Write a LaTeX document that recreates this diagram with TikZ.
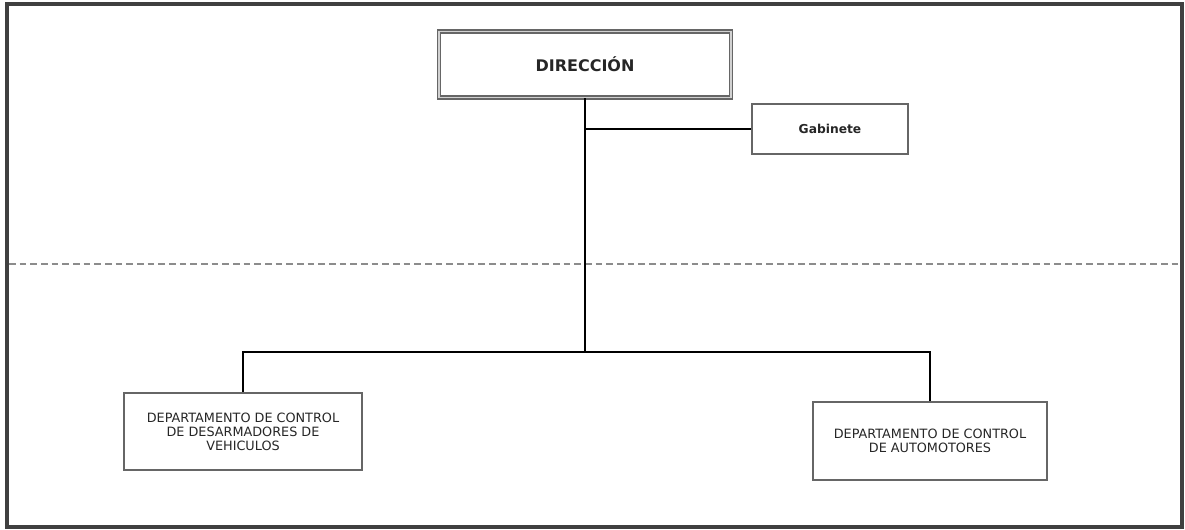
\documentclass[tikz,border=0pt]{standalone}
\usepackage{fontspec}
\setmainfont{DejaVu Sans}
\begin{document}
\begin{tikzpicture}[x=0.75pt,y=-0.75pt,
  mainbox/.style={rectangle,draw=black!60,double=black!18,double distance=1.2pt,line width=1pt,fill=white,
    font=\fontsize{12}{14}\selectfont\bfseries,text=black!85},
  unitbox/.style={rectangle,draw=black!60,line width=1.3pt,fill=white,align=center,
    font=\fontsize{9.6}{10.5}\selectfont,text=black!85},
  link/.style={draw=black,line width=1.2pt}]
\useasboundingbox (0,0) rectangle (1185,530);
\draw[black!75,line width=2.4pt] (7,4) rectangle (1182,527);
\draw[black!45,dashed,line width=0.9pt,dash pattern=on 5pt off 3pt] (9,264) -- (1180,264);
\node[mainbox,minimum width=292*0.75pt,minimum height=66*0.75pt] (dir) at (585,64.5) {DIRECCIÓN};
\node[unitbox,font=\fontsize{9.2}{10.5}\selectfont\bfseries,minimum width=156*0.75pt,minimum height=50*0.75pt] (gab) at (830,129) {Gabinete};
\node[unitbox,minimum width=238*0.75pt,minimum height=77*0.75pt] (d1) at (243,431.5) {DEPARTAMENTO DE CONTROL\\DE DESARMADORES DE\\VEHICULOS};
\node[unitbox,minimum width=234*0.75pt,minimum height=78*0.75pt] (d2) at (930,441) {DEPARTAMENTO DE CONTROL\\DE AUTOMOTORES};
\coordinate (j1) at (585,129);
\coordinate (j2) at (585,352);
\draw[link] (dir.south) -- (j2);
\draw[link] (j1) -- (gab.west);
\draw[link] (j2) -| (d1.north);
\draw[link] (j2) -| (d2.north);
\end{tikzpicture}
\end{document}
